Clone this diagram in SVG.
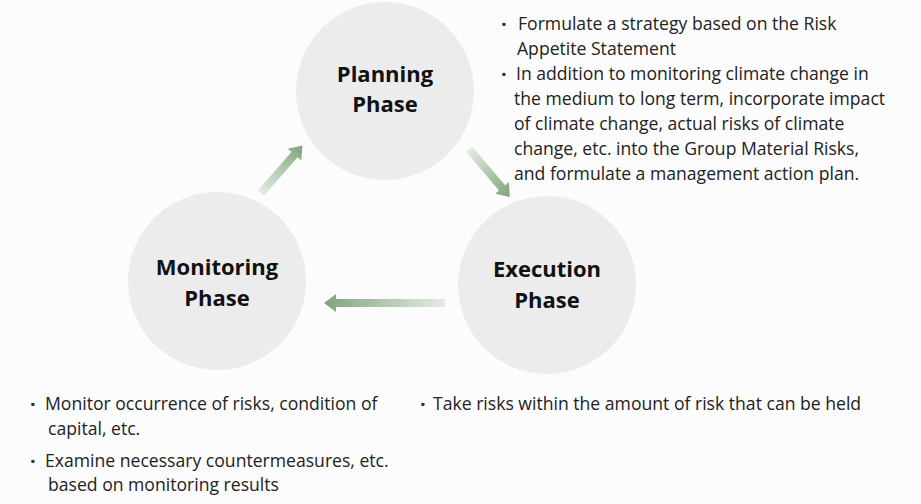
<svg xmlns="http://www.w3.org/2000/svg" width="921" height="504" viewBox="0 0 921 504">
<defs>
<linearGradient id="ag" x1="0" y1="0" x2="1" y2="0">
<stop offset="0" stop-color="#e4ece3"/>
<stop offset="1" stop-color="#80a37d"/>
</linearGradient>
<style>
.phase{fill:#ececec;}
.lbl{font-family:"Open Sans","Liberation Sans",sans-serif;font-weight:bold;font-size:22px;fill:#111;text-anchor:middle;}
.txt{font-family:"Open Sans","Liberation Sans",sans-serif;font-size:17.6px;fill:#222;}
.dot{font-family:"Open Sans","Liberation Sans",sans-serif;font-size:20px;font-weight:bold;fill:#333;}
.arr{fill:url(#ag);}
</style>
</defs>
<rect width="921" height="504" fill="#fcfcfc"/>
<g id="connectors">
<path class="arr" transform="translate(261,193) rotate(-48.9)" d="M0,-4 L51,-4 L51,-9 L63,0 L51,9 L51,4 L0,4 Z"/>
<path class="arr" transform="translate(469,149) rotate(49.6)" d="M0,-4 L51,-4 L51,-9 L63,0 L51,9 L51,4 L0,4 Z"/>
<path class="arr" transform="translate(445,303) rotate(180)" d="M0,-4 L109,-4 L109,-9 L121,0 L109,9 L109,4 L0,4 Z"/>
</g>
<g id="planning">
<circle class="phase" cx="385" cy="91" r="89"/>
<text class="lbl" x="385" y="82">Planning</text>
<text class="lbl" x="385" y="112">Phase</text>
</g>
<g id="monitoring">
<circle class="phase" cx="217" cy="281" r="89"/>
<text class="lbl" x="217" y="275">Monitoring</text>
<text class="lbl" x="217" y="306">Phase</text>
</g>
<g id="execution">
<circle class="phase" cx="547" cy="285" r="89"/>
<text class="lbl" x="547" y="277">Execution</text>
<text class="lbl" x="547" y="308">Phase</text>
</g>
<g id="planning-notes" class="txt">
<text class="dot" x="501" y="31">·</text><text x="518" y="30">Formulate a strategy based on the Risk</text>
<text x="517" y="55">Appetite Statement</text>
<text class="dot" x="501" y="81">·</text><text x="516" y="80">In addition to monitoring climate change in</text>
<text x="514" y="105">the medium to long term, incorporate impact</text>
<text x="514" y="130">of climate change, actual risks of climate</text>
<text x="514" y="155">change, etc. into the Group Material Risks,</text>
<text x="514" y="180">and formulate a management action plan.</text>
</g>
<g id="monitoring-notes" class="txt">
<text class="dot" x="30" y="411">·</text><text x="45" y="410">Monitor occurrence of risks, condition of</text>
<text x="48" y="435">capital, etc.</text>
<text class="dot" x="30" y="468">·</text><text x="45" y="467">Examine necessary countermeasures, etc.</text>
<text x="48" y="491">based on monitoring results</text>
</g>
<g id="execution-notes" class="txt">
<text class="dot" x="420" y="411">·</text><text x="433" y="410">Take risks within the amount of risk that can be held</text>
</g>
</svg>
